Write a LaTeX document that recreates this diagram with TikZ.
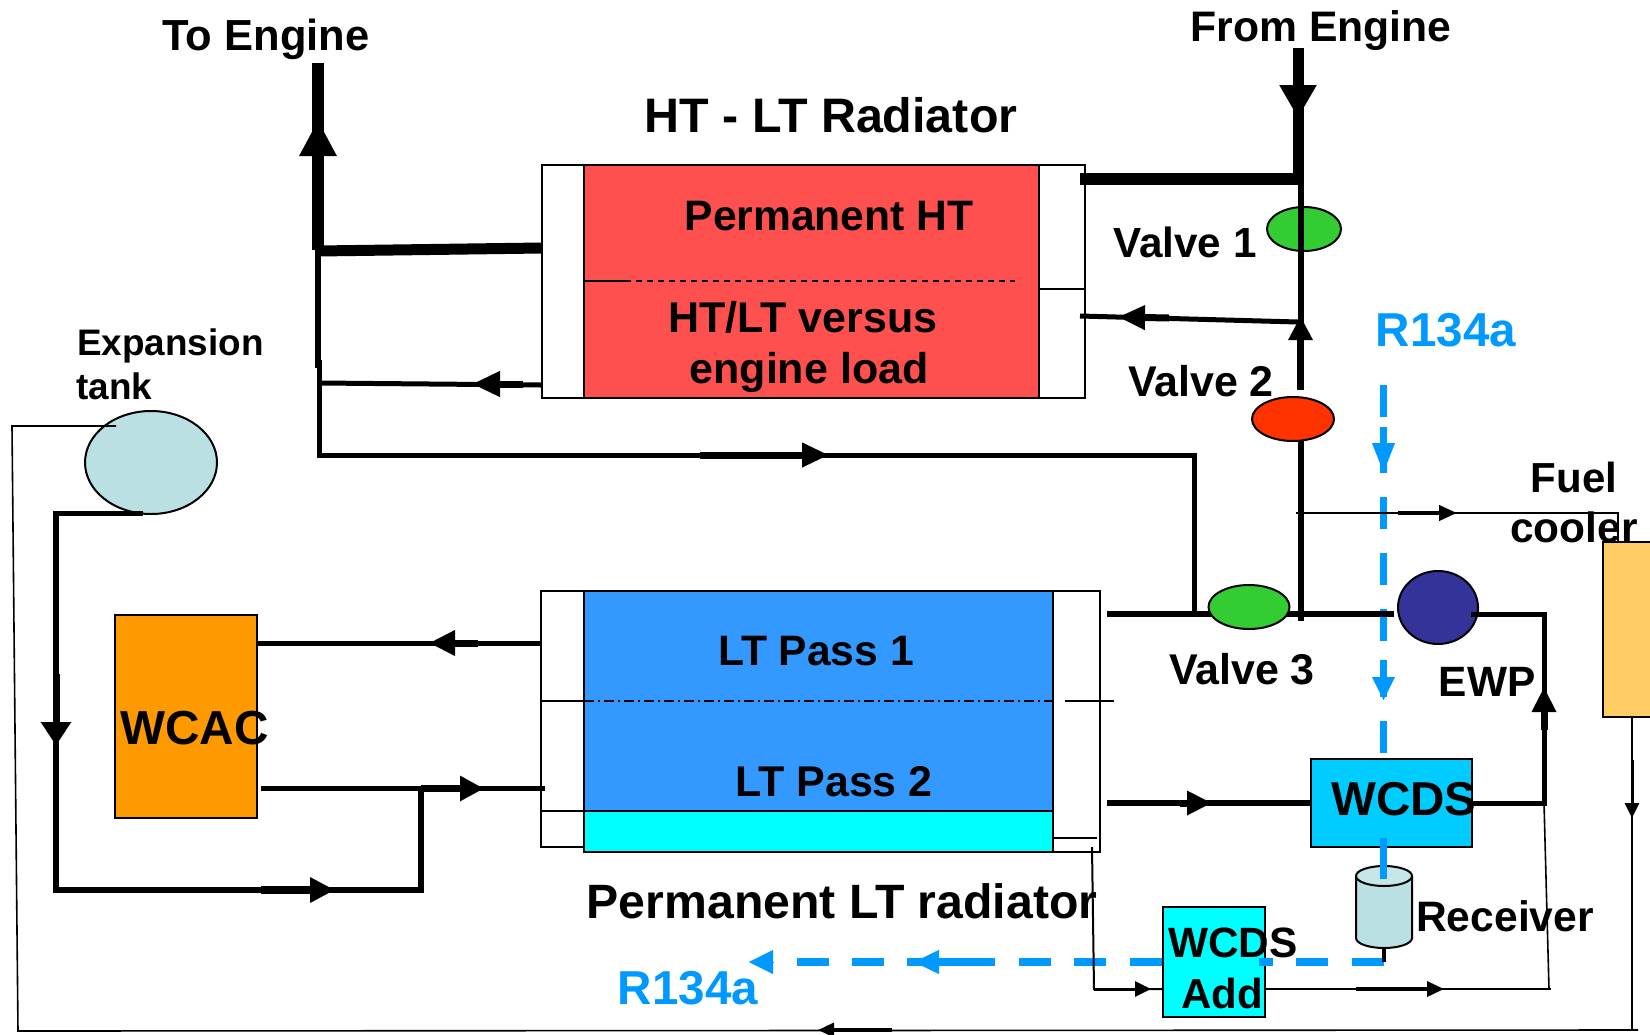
\documentclass[tikz,border=0pt]{standalone}
\usepackage{fontspec}
\setmainfont{Liberation Sans}
\usetikzlibrary{arrows.meta,shapes.geometric}
\definecolor{htred}{HTML}{FF5050}
\definecolor{ltblue}{HTML}{3399FF}
\definecolor{aqua}{HTML}{00FFFF}
\definecolor{wcdsblue}{HTML}{00CCFF}
\definecolor{wcacorange}{HTML}{FF9900}
\definecolor{coolerbox}{HTML}{FFCC66}
\definecolor{refr}{HTML}{0099FF}
\definecolor{paleteal}{HTML}{BBE0E3}
\definecolor{vgreen}{HTML}{33CC33}
\definecolor{vred}{HTML}{FF3300}
\definecolor{pumpblue}{HTML}{333399}
\newcommand{\szt}[1]{\fontsize{#1}{#1}\selectfont\bfseries}
\tikzset{
  cell/.style={draw=black,line width=2pt,inner sep=0pt,outer sep=0pt},
  roundcell/.style={cell,ellipse},
  lbl/.style={inner sep=0pt,anchor=base},
  lbll/.style={inner sep=0pt,anchor=base west},
  pipe/.style={line width=5pt},
  heavy/.style={line width=12pt},
  fine/.style={line width=1.6pt},
  refrdash/.style={line width=6.5pt,color=refr,dash pattern=on 32pt off 24pt},
  refrdashh/.style={line width=8pt,color=refr,dash pattern=on 32pt off 23.5pt},
  refrsolid/.style={line width=6.5pt,color=refr},
  refrsolidh/.style={line width=8pt,color=refr},
  flow/.style n args={3}{line width=#1pt,-{Triangle[length=#2pt,width=#3pt]}},
}
\begin{document}
\begin{tikzpicture}[x=1pt,y=-1pt]
\useasboundingbox (0,0) rectangle (1650,1034);
\fill[white] (0,0) rectangle (1650,1034);

% HT-LT radiator
\node[cell,fill=white,minimum width=42pt,minimum height=233pt] (hl) at (563,281.5) {};
\node[cell,fill=htred,minimum width=455pt,minimum height=233pt] (hc) at (811.5,281.5) {};
\node[cell,fill=white,minimum width=46pt,minimum height=124pt] (hr1) at (1062,227) {};
\node[cell,fill=white,minimum width=46pt,minimum height=109pt] (hr2) at (1062,343.5) {};
\coordinate (hs1) at (585,281); \coordinate (hs2) at (625,281); \coordinate (hs3) at (1015,281);
\draw[line width=1.6pt] (hs1) -- (hs2);
\draw[line width=1.6pt,dash pattern=on 6pt off 5pt] (hs2) -- (hs3);

% LT radiator
\node[cell,fill=white,minimum width=43pt,minimum height=110pt] (ll1) at (562.5,646) {};
\node[cell,fill=white,minimum width=43pt,minimum height=110pt] (ll2) at (562.5,756) {};
\node[cell,fill=white,minimum width=43pt,minimum height=36pt] (ll3) at (562.5,829) {};
\node[cell,fill=ltblue,minimum width=469pt,minimum height=220pt] (lc) at (818.5,701) {};
\node[cell,fill=aqua,minimum width=469pt,minimum height=41pt] (lb) at (818.5,831.5) {};
\node[cell,fill=white,minimum width=47pt,minimum height=261pt] (lr) at (1076.5,721.5) {};
\coordinate (ld1) at (584,701); \coordinate (ld2) at (1053,701);
\draw[line width=1.6pt,dash pattern=on 10pt off 4pt on 2pt off 4pt] (ld1) -- (ld2);
\coordinate (lt1) at (1065,701); \coordinate (lt2) at (1114,701);
\draw[fine] (lt1) -- (lt2);
\coordinate (lq1) at (1053,838); \coordinate (lq2) at (1097,838);
\draw[fine] (lq1) -- (lq2);

% other equipment
\node[cell,fill=wcacorange,minimum width=142pt,minimum height=203pt] (wcac) at (186,716) {};
\node[roundcell,fill=paleteal,minimum width=132pt,minimum height=103pt] (tank) at (151,462.5) {};
\node[roundcell,fill=vgreen,minimum width=74pt,minimum height=44pt] (v1) at (1304,229) {};
\node[roundcell,fill=vred,minimum width=82pt,minimum height=44pt] (v2) at (1293,419) {};
\node[cell,fill=coolerbox,minimum width=48pt,minimum height=175pt] (fc) at (1627,629.5) {};

% refrigerant dashes
\coordinate (rv1) at (1383.5,385); \coordinate (rv2) at (1383.5,753);
\draw[refrdash] (rv1) -- (rv2);
\coordinate (rh1) at (1383.5,962); \coordinate (rh2) at (795,962);
\draw[refrdashh] (rh1) -- (rh2);

% pipes: high temperature
\coordinate (te0) at (318,63); \coordinate (te1) at (318,250);
\draw[heavy] (te0) -- (te1);
\coordinate (te2a) at (318,251); \coordinate (te3) at (542,248);
\draw[line width=11pt] (te2a) -- (te3);
\coordinate (te4) at (318,250); \coordinate (te5) at (318,368);
\draw[line width=5.5pt] (te4) -- (te5);
\coordinate (te6) at (319,360); \coordinate (te7) at (319,455); \coordinate (te8) at (1194,455); \coordinate (te9) at (1194,614);
\draw[pipe] (te6) -- (te7) -- (te8) -- (te9);
\coordinate (ho1) at (319,383); \coordinate (ho2) at (541,385);
\draw[pipe] (ho1) -- (ho2);
\coordinate (fe0) at (1298,48); \coordinate (fe1) at (1298,185);
\draw[line width=11pt] (fe0) -- (fe1);
\coordinate (fe2) at (1303,179); \coordinate (fe3) at (1080,179);
\draw[heavy] (fe2) -- (fe3);
\coordinate (hv1) at (1301,179); \coordinate (hv2) at (1301,390);
\draw[line width=5.5pt] (hv1) -- (hv2);
\coordinate (hi1) at (1298,322); \coordinate (hi2) at (1080,316);
\draw[pipe] (hi1) -- (hi2);
\coordinate (hv3) at (1300.5,441); \coordinate (hv4) at (1300.5,621);
\draw[line width=6pt] (hv3) -- (hv4);

% pipes: LT loop
\coordinate (lp1) at (1107,614); \coordinate (lp2) at (1394,614);
\draw[line width=6pt] (lp1) -- (lp2);
\node[roundcell,fill=vgreen,minimum width=81pt,minimum height=44pt] (v3) at (1249,607) {};
\node[roundcell,fill=pumpblue,minimum width=80pt,minimum height=73pt] (ewp) at (1438,607.5) {};
\node[cell,fill=wcdsblue,minimum width=161pt,minimum height=88pt] (wcds) at (1391.5,803) {};
\coordinate (ep1) at (1471,614); \coordinate (ep2) at (1544,614); \coordinate (ep3) at (1544,803); \coordinate (ep4) at (1472,803);
\draw[pipe] (ep1) -- (ep2) -- (ep3) -- (ep4);
\coordinate (lw1) at (1107,803); \coordinate (lw2) at (1311,803);
\draw[line width=6pt] (lw1) -- (lw2);
\coordinate (wa1) at (257,643); \coordinate (wa2) at (541,643);
\draw[pipe] (wa1) -- (wa2);
\coordinate (wb1) at (261,788.5); \coordinate (wb2) at (545,788.5);
\draw[pipe] (wb1) -- (wb2);
\coordinate (ta1) at (143,513.5); \coordinate (ta2) at (56,513.5); \coordinate (ta3) at (56,890); \coordinate (ta4) at (421,890); \coordinate (ta5) at (421,788.5);
\draw[line width=5.5pt] (ta1) -- (ta2) -- (ta3) -- (ta4) -- (ta5);

% thin return lines
\coordinate (tr0) at (116,426); \coordinate (tr1) at (12,426); \coordinate (tr2) at (18,1031); \coordinate (tr3) at (1638,1030);
\draw[fine] (tr0) -- (tr1) -- (tr2) -- (tr3);
\coordinate (fu1) at (1296,513); \coordinate (fu2) at (1618,513); \coordinate (fu3) at (1618,542);
\draw[fine] (fu1) -- (fu2) -- (fu3);
\coordinate (fd1) at (1632,717); \coordinate (fd2) at (1632,1030);
\draw[fine] (fd1) -- (fd2);
\coordinate (ad1) at (1092,847); \coordinate (ad2) at (1094,989); \coordinate (ad3) at (1163,989);
\draw[line width=2pt] (ad1) -- (ad2) -- (ad3);
\coordinate (ao1) at (1265,989); \coordinate (ao2) at (1551,989);
\draw[fine] (ao1) -- (ao2);
\coordinate (ao3) at (1544,803); \coordinate (ao4) at (1549,989);
\draw[fine] (ao3) -- (ao4);

% WCDS Add box
\node[cell,fill=aqua,minimum width=102pt,minimum height=110pt] (add) at (1214,962) {};
\coordinate (rh3) at (1259,962); \coordinate (rh4) at (1272,962);
\draw[refrsolidh] (rh3) -- (rh4);

% receiver
\coordinate (rc1) at (1356,876); \coordinate (rc2) at (1356,938); \coordinate (rc3) at (1412,876); \coordinate (rc4) at (1384,876);
\draw[line width=2pt,fill=paleteal] (rc1) -- (rc2) arc[start angle=180,end angle=360,x radius=28pt,y radius=10pt] -- (rc3);
\draw[line width=2pt,fill=paleteal!85!white] (rc4) ellipse[x radius=28pt,y radius=10pt];
\coordinate (rs1) at (1383.5,948); \coordinate (rs2) at (1383.5,962);
\draw[line width=4pt] (rs1) -- (rs2);
\coordinate (rw1) at (1383.5,838); \coordinate (rw2) at (1383.5,879);
\draw[refrsolid] (rw1) -- (rw2);

% flow arrowheads
\coordinate (a1s) at (318,178); \coordinate (a1t) at (318,120);
\draw[flow={12}{36}{35}] (a1s) -- (a1t);
\coordinate (a2s) at (1298,60); \coordinate (a2t) at (1298,118);
\draw[flow={11}{33}{35}] (a2s) -- (a2t);
\coordinate (a3s) at (1169,318); \coordinate (a3t) at (1118,317);
\draw[flow={7}{27}{23}] (a3s) -- (a3t);
\coordinate (a4s) at (1300.5,390); \coordinate (a4t) at (1300.5,316);
\draw[flow={6.5}{24}{23}] (a4s) -- (a4t);
\coordinate (a5s) at (523,384); \coordinate (a5t) at (472,384);
\draw[flow={7}{28}{24}] (a5s) -- (a5t);
\coordinate (a6s) at (700,455); \coordinate (a6t) at (829,455);
\draw[flow={7}{27}{23}] (a6s) -- (a6t);
\coordinate (a7s) at (478,643); \coordinate (a7t) at (429,643);
\draw[flow={7}{26}{24}] (a7s) -- (a7t);
\coordinate (a8s) at (421,788.5); \coordinate (a8t) at (484,788.5);
\draw[flow={7}{24}{24}] (a8s) -- (a8t);
\coordinate (a9s) at (261,890); \coordinate (a9t) at (335,890);
\draw[flow={8}{25}{24}] (a9s) -- (a9t);
\coordinate (a10s) at (56,674); \coordinate (a10t) at (56,745.5);
\draw[flow={7}{23.5}{29}] (a10s) -- (a10t);
\coordinate (a11s) at (1180,803); \coordinate (a11t) at (1212,803);
\draw[flow={7}{25}{23}] (a11s) -- (a11t);
\coordinate (a12s) at (1544,730); \coordinate (a12t) at (1544,687);
\draw[flow={7}{25}{23}] (a12s) -- (a12t);
\coordinate (a13s) at (1398,513); \coordinate (a13t) at (1457,513);
\draw[flow={4}{18}{15}] (a13s) -- (a13t);
\coordinate (a14s) at (1632,760); \coordinate (a14t) at (1632,818);
\draw[flow={3}{15}{14}] (a14s) -- (a14t);
\coordinate (a15s) at (1094,989); \coordinate (a15t) at (1151,989);
\draw[flow={3}{16}{15}] (a15s) -- (a15t);
\coordinate (a16s) at (1356,989); \coordinate (a16t) at (1444,989);
\draw[flow={3.5}{17}{15}] (a16s) -- (a16t);
\coordinate (a17s) at (892,1030); \coordinate (a17t) at (818,1030);
\draw[flow={3.5}{16}{14}] (a17s) -- (a17t);

% refrigerant arrowheads
\coordinate (b1a) at (1383.5,427); \coordinate (b1b) at (1383.5,473);
\draw[refrsolid] (b1a) -- (b1b);
\coordinate (b1s) at (1383.5,443); \coordinate (b1t) at (1383.5,472);
\draw[flow={0.1}{29}{23},color=refr] (b1s) -- (b1t);
\coordinate (b2a) at (1383.5,660); \coordinate (b2b) at (1383.5,697);
\draw[refrsolid] (b2a) -- (b2b);
\coordinate (b2s) at (1383.5,677); \coordinate (b2t) at (1383.5,700);
\draw[flow={0.1}{23}{23},color=refr] (b2s) -- (b2t);
\coordinate (b3a) at (995,962); \coordinate (b3b) at (907,962);
\draw[refrsolidh] (b3a) -- (b3b);
\coordinate (b3s) at (939,962); \coordinate (b3t) at (914,962);
\draw[flow={0.1}{25}{24},color=refr] (b3s) -- (b3t);
\coordinate (b4s) at (773,962); \coordinate (b4t) at (749,962);
\draw[flow={0.1}{24}{24},color=refr] (b4s) -- (b4t);

% labels
\node[lbl,font=\szt{43.5}] (t1) at (266,50) {To Engine};
\node[lbl,font=\szt{42.7}] (t2) at (1321,41) {From Engine};
\node[lbl,font=\szt{48.4}] (t3) at (831,132.5) {HT - LT Radiator};
\node[lbl,font=\szt{42.6}] (t4) at (829,230) {Permanent HT};
\node[lbl,font=\szt{43}] (t5) at (803,332) {HT/LT versus};
\node[lbl,font=\szt{43}] (t6) at (809,383) {engine load};
\node[lbl,font=\szt{42.6}] (t7) at (816,665) {LT Pass 1};
\node[lbl,font=\szt{43}] (t8) at (834,796) {LT Pass 2};
\node[lbl,font=\szt{48.2}] (t9) at (842,918) {Permanent LT radiator};
\node[lbl,font=\szt{42.2}] (t10) at (1185,257) {Valve 1};
\node[lbl,font=\szt{43}] (t11) at (1201,396) {Valve 2};
\node[lbl,font=\szt{43}] (t12) at (1242,684) {Valve 3};
\node[lbl,font=\szt{42.4}] (t13) at (1487,696) {EWP};
\node[lbl,font=\szt{47.5}] (t14) at (1404,815) {WCDS};
\node[lbl,font=\szt{42.4}] (t15) at (1233,957) {WCDS};
\node[lbl,font=\szt{42}] (t16) at (1222,1008) {Add};
\node[lbl,font=\szt{42.6}] (t17) at (1505,931) {Receiver};
\node[lbl,font=\szt{42}] (t18) at (1574,492) {Fuel};
\node[lbl,font=\szt{42.4}] (t19) at (1574,542) {cooler};
\node[lbl,font=\szt{47.6},text=refr] (t20) at (1446,346) {R134a};
\node[lbl,font=\szt{47.6},text=refr] (t21) at (688,1004.5) {R134a};
\node[lbl,font=\szt{47.7}] (t22) at (194.5,744.5) {WCAC};
\node[lbll,font=\szt{36.9}] (t23) at (77,355) {Expansion};
\node[lbll,font=\szt{36.9}] (t24) at (76,399.5) {tank};
\end{tikzpicture}
\end{document}
